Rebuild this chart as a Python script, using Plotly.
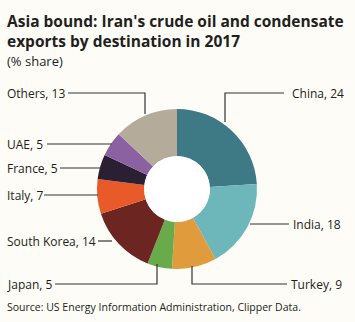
import plotly.graph_objects as go

countries = ["China", "India", "Turkey", "Japan", "South Korea", "Italy", "France", "UAE", "Others"]
shares = [24, 18, 9, 5, 14, 7, 5, 5, 13]
colors = ["#3e7a86", "#6db7bb", "#e09b3d", "#69ab4a", "#6d2521", "#e95a2b", "#2b1f33", "#8b61a1", "#b5ab9b"]

W, H = 355, 322
cx, cy, R = 177, 189, 80

def px(x):
    return x / W

def py(y):
    return 1 - y / H

fig = go.Figure(go.Pie(
    labels=countries, values=shares, sort=False, direction="clockwise", rotation=0,
    hole=0.41, marker=dict(colors=colors, line=dict(width=0)),
    textinfo="none", hoverinfo="label+value", showlegend=False,
    domain=dict(x=[px(cx - R), px(cx + R)], y=[py(cy + R), py(cy - R)]),
))

# label layout: (text x, text y, anchor, leader polyline points)
label_layout = {
    "China": (290, 93, "left", [(284, 93), (225, 93), (225, 122)]),
    "India": (291, 224, "left", [(289, 224), (250, 224)]),
    "Turkey": (289, 284, "left", [(287, 284), (192, 284), (192, 266)]),
    "Japan": (5, 284, "left", [(55, 284), (157, 284), (157, 264)]),
    "South Korea": (5, 241, "left", [(98, 241), (112, 241)]),
    "Italy": (5, 195, "left", [(44, 195), (98, 195)]),
    "France": (5, 168, "left", [(60, 168), (100, 168)]),
    "UAE": (5, 144, "left", [(47, 144), (112, 144)]),
    "Others": (5, 93, "left", [(68, 93), (145, 93), (145, 114)]),
}

annotations = []
shapes = []
for name, val in zip(countries, shares):
    tx, ty, anchor, pts = label_layout[name]
    annotations.append(dict(
        x=px(tx), y=py(ty), xref="paper", yref="paper", xanchor=anchor, yanchor="middle",
        text=f"{name}, {val}", showarrow=False,
        font=dict(family="Open Sans", size=12, color="#231f20"),
    ))
    path = "M " + " L ".join(f"{px(a)},{py(b)}" for a, b in pts)
    shapes.append(dict(type="path", path=path, xref="paper", yref="paper",
                       line=dict(color="#333333", width=1.2)))

# white hole
hr = 33
shapes.append(dict(type="circle", xref="paper", yref="paper",
                   x0=px(cx - hr), x1=px(cx + hr), y0=py(cy + hr), y1=py(cy - hr),
                   fillcolor="#ffffff", line=dict(width=0), layer="above"))

annotations += [
    dict(x=px(5), y=py(21), xref="paper", yref="paper", xanchor="left", yanchor="middle",
         text="<b>Asia bound: Iran's crude oil and condensate</b>", showarrow=False,
         font=dict(family="Open Sans", size=15.5, color="#231f20")),
    dict(x=px(5), y=py(41), xref="paper", yref="paper", xanchor="left", yanchor="middle",
         text="<b>exports by destination in 2017</b>", showarrow=False,
         font=dict(family="Open Sans", size=15.5, color="#231f20")),
    dict(x=px(5), y=py(61), xref="paper", yref="paper", xanchor="left", yanchor="middle",
         text="(% share)", showarrow=False,
         font=dict(family="Open Sans", size=13, color="#231f20")),
    dict(x=px(5), y=py(307), xref="paper", yref="paper", xanchor="left", yanchor="middle",
         text="Source: US Energy Information Administration, Clipper Data.", showarrow=False,
         font=dict(family="Open Sans", size=10.5, color="#231f20")),
]

fig.update_layout(
    width=W, height=H, margin=dict(l=0, r=0, t=0, b=0),
    paper_bgcolor="#fdfcf7", plot_bgcolor="#fdfcf7",
    annotations=annotations, shapes=shapes,
)

fig.write_html("out.html", config={"displayModeBar": False})
